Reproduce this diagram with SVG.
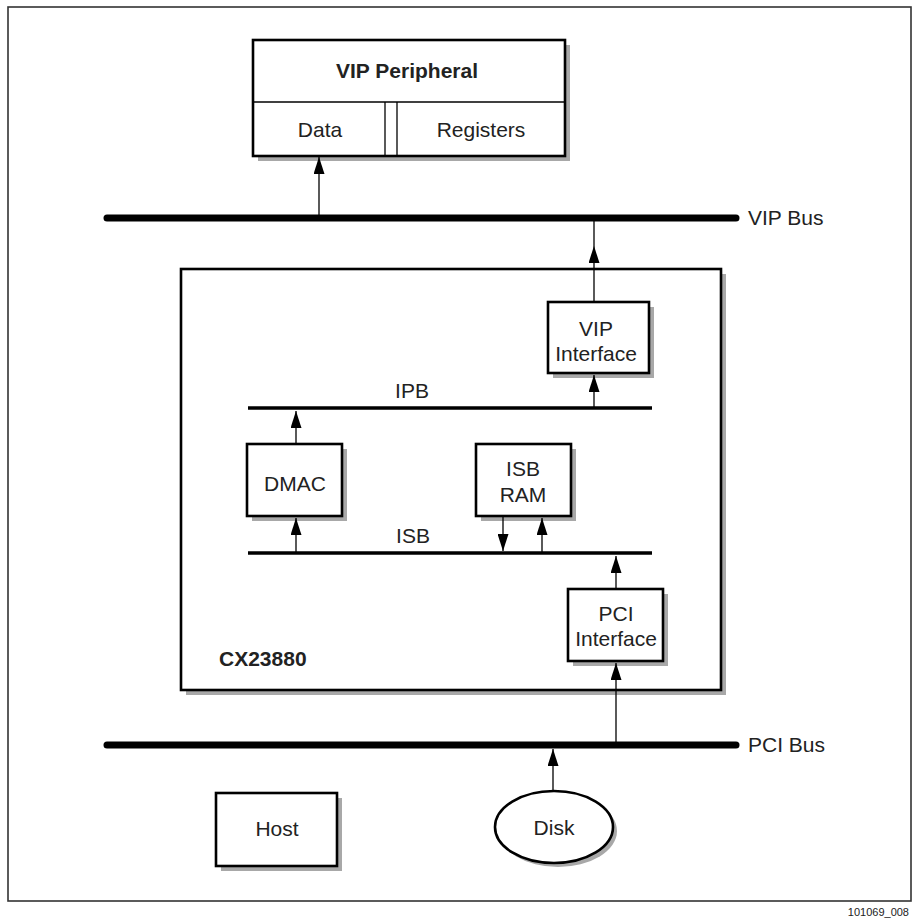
<svg xmlns="http://www.w3.org/2000/svg" width="913" height="921" viewBox="0 0 913 921">
<style>
  text { font-family: "Liberation Sans", Arial, sans-serif; fill: #222; }
  .lbl { font-size: 21px; text-anchor: middle; }
  .bold { font-weight: bold; }
  .box { fill: #fff; stroke: #000; stroke-width: 2.6; }
  .cell { fill: #fff; stroke: #000; stroke-width: 1.3; }
  .shadow { fill: #a8a8a8; stroke: none; }
  .bus { stroke: #000; stroke-width: 7; stroke-linecap: round; }
  .ibus { stroke: #000; stroke-width: 3.5; }
  .conn { stroke: #000; stroke-width: 1.3; fill: none; }
</style>
<defs>
  <marker id="ah" viewBox="0 0 17 11" refX="17" refY="5.5" markerWidth="17" markerHeight="11" markerUnits="userSpaceOnUse" orient="auto">
    <path d="M0,0 L17,5.5 L0,11 Z" fill="#000"/>
  </marker>
</defs>
<rect width="913" height="921" fill="#fff"/>
<rect x="8" y="7" width="903" height="894" fill="none" stroke="#333" stroke-width="1.6"/>
<text x="909" y="916" font-size="11" text-anchor="end">101069_008</text>

<g id="buses">
  <line class="bus" x1="107" y1="218" x2="736" y2="218"/>
  <text x="748" y="225" font-size="21">VIP Bus</text>
  <line class="bus" x1="107" y1="745" x2="736" y2="745"/>
  <text x="748" y="752" font-size="21">PCI Bus</text>
</g>

<g id="vip-peripheral">
  <rect class="shadow" x="258" y="45" width="312" height="116"/>
  <rect class="box" x="253" y="40" width="312" height="116"/>
  <line class="cell" x1="253" y1="102" x2="565" y2="102"/>
  <line class="cell" x1="385" y1="102" x2="385" y2="156"/>
  <line class="cell" x1="397" y1="102" x2="397" y2="156"/>
  <text class="lbl bold" x="407" y="78">VIP Peripheral</text>
  <text class="lbl" x="320" y="137">Data</text>
  <text class="lbl" x="481" y="137">Registers</text>
</g>

<g id="cx23880">
  <rect class="shadow" x="186" y="274" width="540" height="421"/>
  <rect class="box" x="181" y="269" width="540" height="421"/>
  <text class="bold" x="219" y="666" font-size="21">CX23880</text>
</g>

<g id="ipb">
  <line class="ibus" x1="248" y1="408" x2="652" y2="408"/>
  <text class="lbl" x="412" y="398">IPB</text>
</g>
<g id="isb">
  <line class="ibus" x1="248" y1="553" x2="652" y2="553"/>
  <text class="lbl" x="413" y="543">ISB</text>
</g>

<g id="vip-interface">
  <rect class="shadow" x="553" y="307" width="101" height="71"/>
  <rect class="box" x="548" y="302" width="101" height="71"/>
  <text class="lbl" x="596" y="336">VIP</text>
  <text class="lbl" x="596" y="361">Interface</text>
</g>

<g id="dmac">
  <rect class="shadow" x="252" y="449" width="95" height="72"/>
  <rect class="box" x="247" y="444" width="95" height="72"/>
  <text class="lbl" x="295" y="491">DMAC</text>
</g>

<g id="isb-ram">
  <rect class="shadow" x="481" y="449" width="95" height="72"/>
  <rect class="box" x="476" y="444" width="95" height="72"/>
  <text class="lbl" x="523" y="476">ISB</text>
  <text class="lbl" x="523" y="502">RAM</text>
</g>

<g id="pci-interface">
  <rect class="shadow" x="573" y="594" width="95" height="72"/>
  <rect class="box" x="568" y="589" width="95" height="72"/>
  <text class="lbl" x="616" y="621">PCI</text>
  <text class="lbl" x="616" y="646">Interface</text>
</g>

<g id="host">
  <rect class="shadow" x="221" y="798" width="121" height="73"/>
  <rect class="box" x="216" y="793" width="121" height="73"/>
  <text class="lbl" x="277" y="836">Host</text>
</g>

<g id="disk">
  <ellipse class="shadow" cx="558" cy="831" rx="59" ry="36"/>
  <ellipse class="box" cx="554" cy="827" rx="59" ry="36"/>
  <text class="lbl" x="554" y="835">Disk</text>
</g>

<g id="connectors">
  <line class="conn" x1="319" y1="215" x2="319" y2="157" marker-end="url(#ah)"/>
  <line class="conn" x1="594" y1="302" x2="594" y2="246" marker-end="url(#ah)"/>
  <line class="conn" x1="594" y1="246" x2="594" y2="219"/>
  <line class="conn" x1="594" y1="407" x2="594" y2="375" marker-end="url(#ah)"/>
  <line class="conn" x1="296" y1="444" x2="296" y2="411" marker-end="url(#ah)"/>
  <line class="conn" x1="296" y1="552" x2="296" y2="518" marker-end="url(#ah)"/>
  <line class="conn" x1="503" y1="517" x2="503" y2="551" marker-end="url(#ah)"/>
  <line class="conn" x1="542" y1="552" x2="542" y2="518" marker-end="url(#ah)"/>
  <line class="conn" x1="616" y1="589" x2="616" y2="556" marker-end="url(#ah)"/>
  <line class="conn" x1="616" y1="744" x2="616" y2="663" marker-end="url(#ah)"/>
  <line class="conn" x1="553" y1="791" x2="553" y2="749" marker-end="url(#ah)"/>
</g>
</svg>
